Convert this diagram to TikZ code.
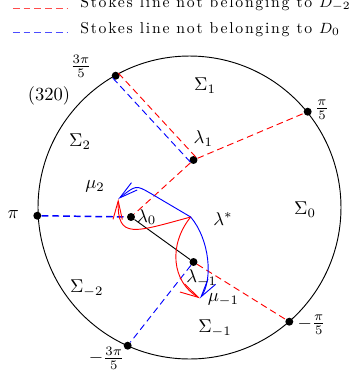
\documentclass[tikz,border=0pt]{standalone}
\usepackage{fontspec}
\newfontfamily\legfont{lmroman10-regular.otf}[LetterSpace=11]
\usetikzlibrary{calc,arrows.meta}
\begin{document}
\begin{tikzpicture}[x=0.54pt,y=-0.54pt,
  dot/.style={circle,fill=black,inner sep=0pt,minimum size=4.3pt},
  lbl/.style={inner sep=0pt},
  legtext/.style={inner sep=0pt,anchor=base west,font=\fontsize{8.5}{10}\legfont},
  rdash/.style={red,dash pattern=on 3.6pt off 2.2pt,line width=0.5pt},
  bdash/.style={blue,dash pattern=on 3.6pt off 2.2pt,line width=0.5pt},
  tipped/.style={-{Straight Barb[length=10pt,width=5pt]},line width=0.5pt},
]
\useasboundingbox (0,0) rectangle (364,377);
% legend
\coordinate (la) at (13,8.5); \coordinate (lb) at (67,8.5);
\coordinate (lc) at (13,32.5); \coordinate (ld) at (67,32.5);
\draw[rdash,red!70] (la) -- (lb);
\draw[bdash,blue!70] (lc) -- (ld);
\node[legtext] (lt1) at (80,7.5) {Stokes line not belonging to $D_{-2}$};
\node[legtext] (lt2) at (80,33) {Stokes line not belonging to $D_{0}$};
% circle
\coordinate (c) at (189.5,207.5);
\draw[line width=0.5pt] (c) circle[radius=81.8pt];
% points
\node[dot] (p1) at (307.7,111.7) {};
\node[dot] (p3) at (115.7,75.7) {};
\node[dot] (pp) at (37.3,215.7) {};
\node[dot] (m1) at (289.3,321.7) {};
\node[dot] (m3) at (127.7,345.7) {};
\node[dot] (l1) at (193.5,160) {};
\node[dot] (l0) at (131,217) {};
\node[dot] (lm) at (193.5,262) {};
\coordinate (ls) at (190.7,217);
\coordinate (mu2) at (118.3,199);
\coordinate (mum) at (200,298.3);
% stokes lines
\draw[rdash] (l1) -- (p1);
\draw[rdash] (l1) -- (l0);
\draw[rdash] (lm) -- (m1);
\draw[rdash] ($(p3)!2pt!90:(l1)$) -- ($(l1)!2pt!-90:(p3)$);
\draw[bdash] ($(p3)!2pt!-90:(l1)$) -- ($(l1)!2pt!90:(p3)$);
\draw[bdash,line width=0.8pt] (pp) -- (l0);
\draw[bdash] (lm) -- (m3);
% segment
\draw[line width=0.5pt] (l0) -- (lm);
% paths
\draw[tipped,red] (ls) .. controls (135,232) and (117,240) .. (mu2);
\draw[tipped,blue] (ls) -- (150,193) .. controls (136,185) .. (mu2);
\draw[tipped,red] (ls) .. controls (168,245) and (172,282) .. (mum);
\draw[tipped,blue] (ls) .. controls (210,240) and (213,280) .. (mum);
% labels
\node[lbl] (t320) at (49,96) {(320)};
\node[lbl] (tp3) at (81,66) {$\frac{3\pi}{5}$};
\node[lbl] (tp1) at (322,110) {$\frac{\pi}{5}$};
\node[lbl] (tpp) at (13.3,215) {$\pi$};
\node[lbl] (tm1) at (311.5,325) {$-\frac{\pi}{5}$};
\node[lbl] (tm3) at (106.5,358.3) {$-\frac{3\pi}{5}$};
\node[lbl] (s1) at (205,86) {$\Sigma_1$};
\node[lbl] (s2) at (80,141.7) {$\Sigma_2$};
\node[lbl] (s0) at (305,210) {$\Sigma_0$};
\node[lbl] (sm2) at (86.7,288.3) {$\Sigma_{-2}$};
\node[lbl] (sm1) at (215,328.3) {$\Sigma_{-1}$};
\node[lbl] (tl1) at (203.3,138.3) {$\lambda_1$};
\node[lbl] (tl0) at (146.7,217) {$\lambda_0$};
\node[lbl] (tls) at (223,219) {$\lambda^*$};
\node[lbl] (tmu2) at (95,186.7) {$\mu_2$};
\node[lbl] (tlm) at (201.7,278) {$\lambda_{-1}$};
\node[lbl] (tmum) at (223.3,300) {$\mu_{-1}$};
\end{tikzpicture}
\end{document}
